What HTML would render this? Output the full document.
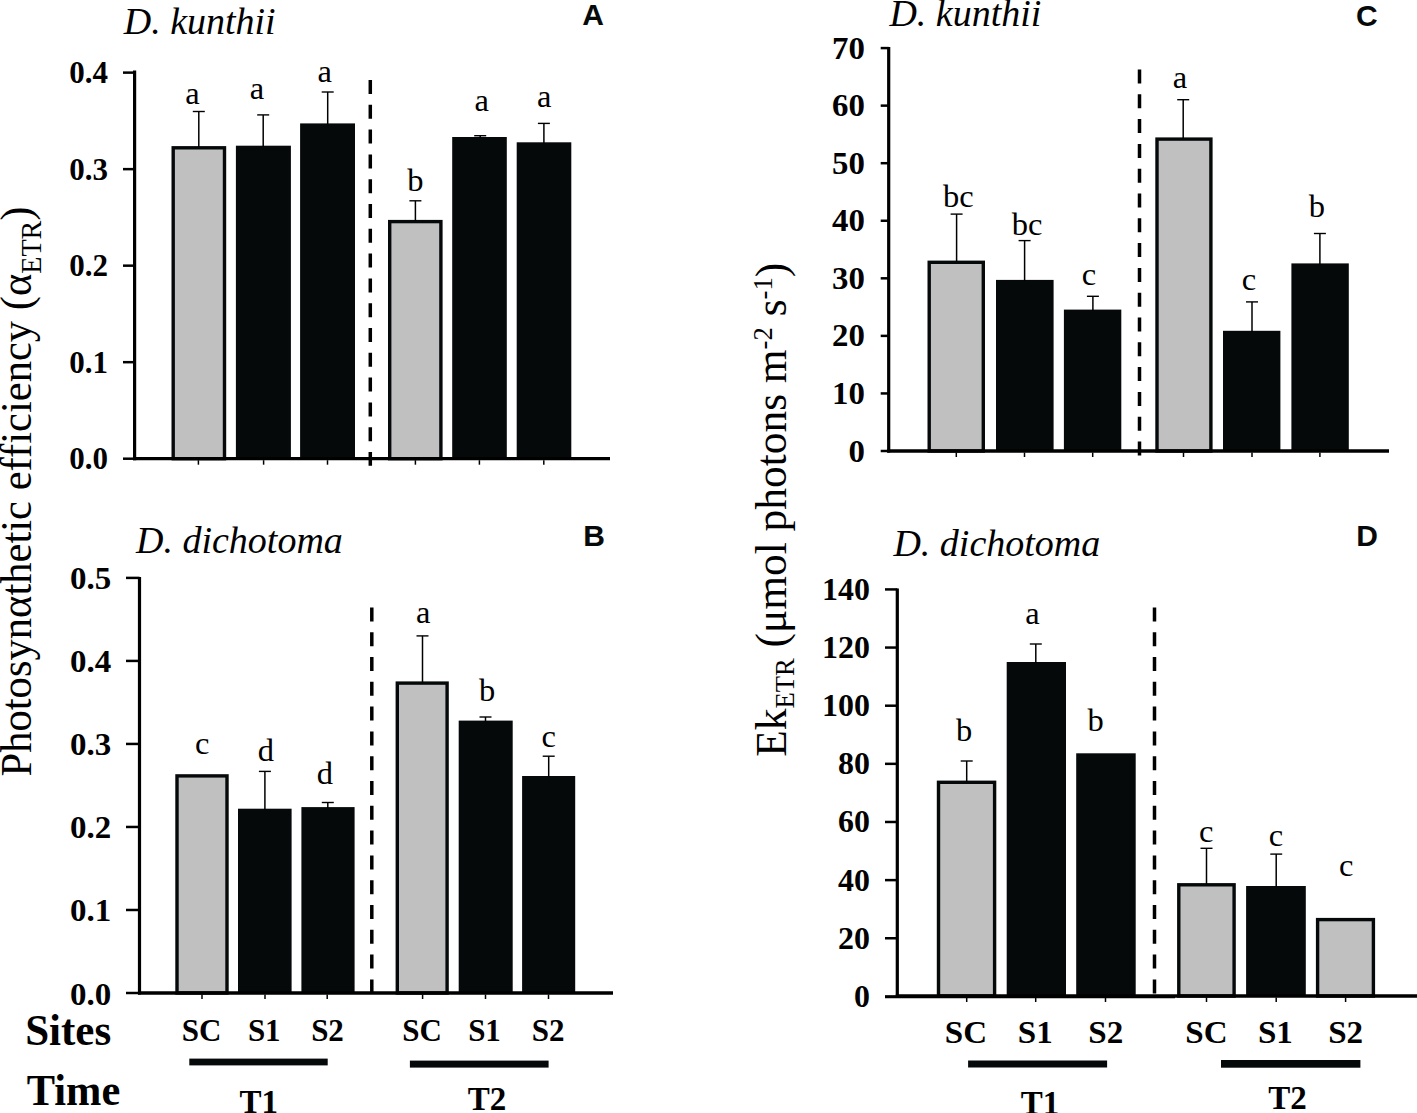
<!DOCTYPE html>
<html><head><meta charset="utf-8"><style>
html,body{margin:0;padding:0;background:#fff;width:1417px;height:1113px;overflow:hidden}
svg{display:block}
.r{font-family:"Liberation Serif",serif;fill:#000}
.b{font-family:"Liberation Serif",serif;font-weight:bold;fill:#000}
.i{font-family:"Liberation Serif",serif;font-style:italic;fill:#000}
.s{font-family:"Liberation Sans",sans-serif;font-weight:bold;fill:#05090a}
</style></head><body>
<svg width="1417" height="1113" viewBox="0 0 1417 1113">
<rect x="173.20" y="147.80" width="51.30" height="310.90" fill="#c0c0c0" stroke="#05090a" stroke-width="3.4"/>
<line x1="198.8" y1="111.5" x2="198.8" y2="147.1" stroke="#000" stroke-width="1.5"/>
<line x1="192.8" y1="111.5" x2="204.8" y2="111.5" stroke="#000" stroke-width="1.4"/>
<text x="192.5" y="104.3" font-size="32.5" class="r" text-anchor="middle" >a</text>
<rect x="235.9" y="145.7" width="55.0" height="313.0" fill="#05090a"/>
<line x1="263.2" y1="114.9" x2="263.2" y2="146.7" stroke="#000" stroke-width="1.5"/>
<line x1="257.2" y1="114.9" x2="269.2" y2="114.9" stroke="#000" stroke-width="1.4"/>
<text x="256.9" y="98.6" font-size="32.5" class="r" text-anchor="middle" >a</text>
<rect x="300.1" y="123.4" width="54.9" height="335.3" fill="#05090a"/>
<line x1="327.7" y1="92" x2="327.7" y2="124.4" stroke="#000" stroke-width="1.5"/>
<line x1="321.7" y1="92" x2="333.7" y2="92" stroke="#000" stroke-width="1.4"/>
<text x="324.8" y="82.4" font-size="32.5" class="r" text-anchor="middle" >a</text>
<rect x="389.70" y="221.60" width="51.20" height="237.10" fill="#c0c0c0" stroke="#05090a" stroke-width="3.4"/>
<line x1="415.4" y1="200.8" x2="415.4" y2="220.9" stroke="#000" stroke-width="1.5"/>
<line x1="409.4" y1="200.8" x2="421.4" y2="200.8" stroke="#000" stroke-width="1.4"/>
<text x="415.3" y="191.1" font-size="32.5" class="r" text-anchor="middle" >b</text>
<rect x="452.2" y="137.0" width="54.6" height="321.7" fill="#05090a"/>
<line x1="480.2" y1="135.7" x2="480.2" y2="138.0" stroke="#000" stroke-width="1.5"/>
<line x1="474.2" y1="135.7" x2="486.2" y2="135.7" stroke="#000" stroke-width="1.4"/>
<text x="481.7" y="111.1" font-size="32.5" class="r" text-anchor="middle" >a</text>
<rect x="516.7" y="142.3" width="54.6" height="316.4" fill="#05090a"/>
<line x1="543.9" y1="123.4" x2="543.9" y2="143.3" stroke="#000" stroke-width="1.5"/>
<line x1="537.9" y1="123.4" x2="549.9" y2="123.4" stroke="#000" stroke-width="1.4"/>
<text x="544.2" y="106.6" font-size="32.5" class="r" text-anchor="middle" >a</text>
<line x1="370.3" y1="80" x2="370.3" y2="465.7" stroke="#000" stroke-width="3.5" stroke-dasharray="14 10.8"/>
<line x1="134.6" y1="70.4" x2="134.6" y2="460.2" stroke="#000" stroke-width="3.2"/>
<line x1="133.1" y1="458.7" x2="610" y2="458.7" stroke="#000" stroke-width="3.3"/>
<line x1="123" y1="458.7" x2="134.6" y2="458.7" stroke="#000" stroke-width="2.5"/>
<text x="108" y="469.2" font-size="31" class="b" text-anchor="end" textLength="38.75" lengthAdjust="spacingAndGlyphs">0.0</text>
<line x1="123" y1="362.18" x2="134.6" y2="362.18" stroke="#000" stroke-width="2.5"/>
<text x="108" y="372.68" font-size="31" class="b" text-anchor="end" textLength="38.75" lengthAdjust="spacingAndGlyphs">0.1</text>
<line x1="123" y1="265.65999999999997" x2="134.6" y2="265.65999999999997" stroke="#000" stroke-width="2.5"/>
<text x="108" y="276.15999999999997" font-size="31" class="b" text-anchor="end" textLength="38.75" lengthAdjust="spacingAndGlyphs">0.2</text>
<line x1="123" y1="169.14" x2="134.6" y2="169.14" stroke="#000" stroke-width="2.5"/>
<text x="108" y="179.64" font-size="31" class="b" text-anchor="end" textLength="38.75" lengthAdjust="spacingAndGlyphs">0.3</text>
<line x1="123" y1="72.62" x2="134.6" y2="72.62" stroke="#000" stroke-width="2.5"/>
<text x="108" y="83.12" font-size="31" class="b" text-anchor="end" textLength="38.75" lengthAdjust="spacingAndGlyphs">0.4</text>
<line x1="198.4" y1="460.2" x2="198.4" y2="464.7" stroke="#000" stroke-width="1.5"/>
<line x1="263.6" y1="460.2" x2="263.6" y2="464.7" stroke="#000" stroke-width="1.5"/>
<line x1="327.5" y1="460.2" x2="327.5" y2="464.7" stroke="#000" stroke-width="1.5"/>
<line x1="415.4" y1="460.2" x2="415.4" y2="464.7" stroke="#000" stroke-width="1.5"/>
<line x1="479.4" y1="460.2" x2="479.4" y2="464.7" stroke="#000" stroke-width="1.5"/>
<line x1="543.8" y1="460.2" x2="543.8" y2="464.7" stroke="#000" stroke-width="1.5"/>
<rect x="177.00" y="775.90" width="50.00" height="217.10" fill="#c0c0c0" stroke="#05090a" stroke-width="3.4"/>
<text x="202.3" y="753.9" font-size="32.5" class="r" text-anchor="middle" >c</text>
<rect x="238.0" y="808.7" width="53.6" height="184.3" fill="#05090a"/>
<line x1="264.9" y1="771.4" x2="264.9" y2="809.7" stroke="#000" stroke-width="1.5"/>
<line x1="258.9" y1="771.4" x2="270.9" y2="771.4" stroke="#000" stroke-width="1.4"/>
<text x="265.9" y="760.5" font-size="32.5" class="r" text-anchor="middle" >d</text>
<rect x="301.4" y="807.1" width="53.2" height="185.9" fill="#05090a"/>
<line x1="327.8" y1="802.5" x2="327.8" y2="808.1" stroke="#000" stroke-width="1.5"/>
<line x1="321.8" y1="802.5" x2="333.8" y2="802.5" stroke="#000" stroke-width="1.4"/>
<text x="324.9" y="784.2" font-size="32.5" class="r" text-anchor="middle" >d</text>
<rect x="397.30" y="683.10" width="49.80" height="309.90" fill="#c0c0c0" stroke="#05090a" stroke-width="3.4"/>
<line x1="422.5" y1="635.9" x2="422.5" y2="682.4" stroke="#000" stroke-width="1.5"/>
<line x1="416.5" y1="635.9" x2="428.5" y2="635.9" stroke="#000" stroke-width="1.4"/>
<text x="423.1" y="623.2" font-size="32.5" class="r" text-anchor="middle" >a</text>
<rect x="458.7" y="720.6" width="54.0" height="272.4" fill="#05090a"/>
<line x1="485.5" y1="717" x2="485.5" y2="721.6" stroke="#000" stroke-width="1.5"/>
<line x1="479.5" y1="717" x2="491.5" y2="717" stroke="#000" stroke-width="1.4"/>
<text x="487.1" y="700.8" font-size="32.5" class="r" text-anchor="middle" >b</text>
<rect x="522.1" y="776.0" width="53.1" height="217.0" fill="#05090a"/>
<line x1="548.7" y1="756.2" x2="548.7" y2="777.0" stroke="#000" stroke-width="1.5"/>
<line x1="542.7" y1="756.2" x2="554.7" y2="756.2" stroke="#000" stroke-width="1.4"/>
<text x="548.6" y="746.8" font-size="32.5" class="r" text-anchor="middle" >c</text>
<line x1="371.8" y1="607.4" x2="371.8" y2="993" stroke="#000" stroke-width="3.5" stroke-dasharray="14 10.8"/>
<line x1="139.5" y1="576.9" x2="139.5" y2="994.5" stroke="#000" stroke-width="3.2"/>
<line x1="138.0" y1="993" x2="613" y2="993" stroke="#000" stroke-width="3.3"/>
<line x1="126" y1="993.0" x2="139.5" y2="993.0" stroke="#000" stroke-width="2.5"/>
<text x="111.3" y="1004.5" font-size="32" class="b" text-anchor="end" textLength="41.20" lengthAdjust="spacingAndGlyphs">0.0</text>
<line x1="126" y1="909.98" x2="139.5" y2="909.98" stroke="#000" stroke-width="2.5"/>
<text x="111.3" y="921.48" font-size="32" class="b" text-anchor="end" textLength="41.20" lengthAdjust="spacingAndGlyphs">0.1</text>
<line x1="126" y1="826.96" x2="139.5" y2="826.96" stroke="#000" stroke-width="2.5"/>
<text x="111.3" y="838.46" font-size="32" class="b" text-anchor="end" textLength="41.20" lengthAdjust="spacingAndGlyphs">0.2</text>
<line x1="126" y1="743.94" x2="139.5" y2="743.94" stroke="#000" stroke-width="2.5"/>
<text x="111.3" y="755.44" font-size="32" class="b" text-anchor="end" textLength="41.20" lengthAdjust="spacingAndGlyphs">0.3</text>
<line x1="126" y1="660.9200000000001" x2="139.5" y2="660.9200000000001" stroke="#000" stroke-width="2.5"/>
<text x="111.3" y="672.4200000000001" font-size="32" class="b" text-anchor="end" textLength="41.20" lengthAdjust="spacingAndGlyphs">0.4</text>
<line x1="126" y1="577.9000000000001" x2="139.5" y2="577.9000000000001" stroke="#000" stroke-width="2.5"/>
<text x="111.3" y="589.4000000000001" font-size="32" class="b" text-anchor="end" textLength="41.20" lengthAdjust="spacingAndGlyphs">0.5</text>
<line x1="202" y1="994.5" x2="202" y2="999" stroke="#000" stroke-width="1.5"/>
<line x1="265" y1="994.5" x2="265" y2="999" stroke="#000" stroke-width="1.5"/>
<line x1="327.2" y1="994.5" x2="327.2" y2="999" stroke="#000" stroke-width="1.5"/>
<line x1="422.6" y1="994.5" x2="422.6" y2="999" stroke="#000" stroke-width="1.5"/>
<line x1="485.5" y1="994.5" x2="485.5" y2="999" stroke="#000" stroke-width="1.5"/>
<line x1="548.5" y1="994.5" x2="548.5" y2="999" stroke="#000" stroke-width="1.5"/>
<rect x="929.20" y="262.30" width="54.10" height="188.70" fill="#c0c0c0" stroke="#05090a" stroke-width="3.4"/>
<line x1="956.6" y1="214.1" x2="956.6" y2="261.6" stroke="#000" stroke-width="1.5"/>
<line x1="950.6" y1="214.1" x2="962.6" y2="214.1" stroke="#000" stroke-width="1.4"/>
<text x="958.4" y="207.3" font-size="32.5" class="r" text-anchor="middle" >bc</text>
<rect x="996.0" y="279.9" width="57.6" height="171.1" fill="#05090a"/>
<line x1="1024.6" y1="240.6" x2="1024.6" y2="280.9" stroke="#000" stroke-width="1.5"/>
<line x1="1018.5999999999999" y1="240.6" x2="1030.6" y2="240.6" stroke="#000" stroke-width="1.4"/>
<text x="1027.0" y="234.5" font-size="32.5" class="r" text-anchor="middle" >bc</text>
<rect x="1063.9" y="309.6" width="57.4" height="141.4" fill="#05090a"/>
<line x1="1092.9" y1="296.3" x2="1092.9" y2="310.6" stroke="#000" stroke-width="1.5"/>
<line x1="1086.9" y1="296.3" x2="1098.9" y2="296.3" stroke="#000" stroke-width="1.4"/>
<text x="1088.9" y="285.2" font-size="32.5" class="r" text-anchor="middle" >c</text>
<rect x="1157.00" y="139.10" width="53.90" height="311.90" fill="#c0c0c0" stroke="#05090a" stroke-width="3.4"/>
<line x1="1183.2" y1="99.7" x2="1183.2" y2="138.4" stroke="#000" stroke-width="1.5"/>
<line x1="1177.2" y1="99.7" x2="1189.2" y2="99.7" stroke="#000" stroke-width="1.4"/>
<text x="1179.9" y="87.6" font-size="32.5" class="r" text-anchor="middle" >a</text>
<rect x="1223.0" y="330.8" width="57.4" height="120.2" fill="#05090a"/>
<line x1="1252" y1="301.9" x2="1252" y2="331.8" stroke="#000" stroke-width="1.5"/>
<line x1="1246" y1="301.9" x2="1258" y2="301.9" stroke="#000" stroke-width="1.4"/>
<text x="1248.9" y="290.2" font-size="32.5" class="r" text-anchor="middle" >c</text>
<rect x="1291.4" y="263.4" width="57.4" height="187.6" fill="#05090a"/>
<line x1="1319.9" y1="233.5" x2="1319.9" y2="264.4" stroke="#000" stroke-width="1.5"/>
<line x1="1313.9" y1="233.5" x2="1325.9" y2="233.5" stroke="#000" stroke-width="1.4"/>
<text x="1316.9" y="217.2" font-size="32.5" class="r" text-anchor="middle" >b</text>
<line x1="1139.5" y1="69.5" x2="1139.5" y2="455.4" stroke="#000" stroke-width="3.5" stroke-dasharray="14 10.8"/>
<line x1="888.7" y1="47" x2="888.7" y2="452.5" stroke="#000" stroke-width="3.2"/>
<line x1="887.2" y1="451" x2="1389" y2="451" stroke="#000" stroke-width="3.3"/>
<line x1="880.7" y1="451.0" x2="888.7" y2="451.0" stroke="#000" stroke-width="2.5"/>
<text x="865" y="461.5" font-size="31" class="b" text-anchor="end" textLength="16.43" lengthAdjust="spacingAndGlyphs">0</text>
<line x1="880.7" y1="393.44" x2="888.7" y2="393.44" stroke="#000" stroke-width="2.5"/>
<text x="865" y="403.94" font-size="31" class="b" text-anchor="end" textLength="32.86" lengthAdjust="spacingAndGlyphs">10</text>
<line x1="880.7" y1="335.88" x2="888.7" y2="335.88" stroke="#000" stroke-width="2.5"/>
<text x="865" y="346.38" font-size="31" class="b" text-anchor="end" textLength="32.86" lengthAdjust="spacingAndGlyphs">20</text>
<line x1="880.7" y1="278.32" x2="888.7" y2="278.32" stroke="#000" stroke-width="2.5"/>
<text x="865" y="288.82" font-size="31" class="b" text-anchor="end" textLength="32.86" lengthAdjust="spacingAndGlyphs">30</text>
<line x1="880.7" y1="220.76" x2="888.7" y2="220.76" stroke="#000" stroke-width="2.5"/>
<text x="865" y="231.26" font-size="31" class="b" text-anchor="end" textLength="32.86" lengthAdjust="spacingAndGlyphs">40</text>
<line x1="880.7" y1="163.2" x2="888.7" y2="163.2" stroke="#000" stroke-width="2.5"/>
<text x="865" y="173.7" font-size="31" class="b" text-anchor="end" textLength="32.86" lengthAdjust="spacingAndGlyphs">50</text>
<line x1="880.7" y1="105.63999999999999" x2="888.7" y2="105.63999999999999" stroke="#000" stroke-width="2.5"/>
<text x="865" y="116.13999999999999" font-size="31" class="b" text-anchor="end" textLength="32.86" lengthAdjust="spacingAndGlyphs">60</text>
<line x1="880.7" y1="48.079999999999984" x2="888.7" y2="48.079999999999984" stroke="#000" stroke-width="2.5"/>
<text x="865" y="58.579999999999984" font-size="31" class="b" text-anchor="end" textLength="32.86" lengthAdjust="spacingAndGlyphs">70</text>
<line x1="956.3" y1="452.5" x2="956.3" y2="457" stroke="#000" stroke-width="1.5"/>
<line x1="1024.5" y1="452.5" x2="1024.5" y2="457" stroke="#000" stroke-width="1.5"/>
<line x1="1092.7" y1="452.5" x2="1092.7" y2="457" stroke="#000" stroke-width="1.5"/>
<line x1="1183.5" y1="452.5" x2="1183.5" y2="457" stroke="#000" stroke-width="1.5"/>
<line x1="1252" y1="452.5" x2="1252" y2="457" stroke="#000" stroke-width="1.5"/>
<line x1="1319.9" y1="452.5" x2="1319.9" y2="457" stroke="#000" stroke-width="1.5"/>
<rect x="938.50" y="782.30" width="56.10" height="213.70" fill="#c0c0c0" stroke="#05090a" stroke-width="3.4"/>
<line x1="966.7" y1="761" x2="966.7" y2="781.6" stroke="#000" stroke-width="1.5"/>
<line x1="960.7" y1="761" x2="972.7" y2="761" stroke="#000" stroke-width="1.4"/>
<text x="964.2" y="740.6" font-size="32.5" class="r" text-anchor="middle" >b</text>
<rect x="1006.7" y="662.0" width="59.3" height="334.0" fill="#05090a"/>
<line x1="1035.8" y1="644" x2="1035.8" y2="663.0" stroke="#000" stroke-width="1.5"/>
<line x1="1029.8" y1="644" x2="1041.8" y2="644" stroke="#000" stroke-width="1.4"/>
<text x="1032.5" y="623.6" font-size="32.5" class="r" text-anchor="middle" >a</text>
<rect x="1076.2" y="753.3" width="59.5" height="242.7" fill="#05090a"/>
<text x="1095.5" y="730.8" font-size="32.5" class="r" text-anchor="middle" >b</text>
<rect x="1178.80" y="884.80" width="55.30" height="111.20" fill="#c0c0c0" stroke="#05090a" stroke-width="3.4"/>
<line x1="1206.5" y1="848.3" x2="1206.5" y2="884.1" stroke="#000" stroke-width="1.5"/>
<line x1="1200.5" y1="848.3" x2="1212.5" y2="848.3" stroke="#000" stroke-width="1.4"/>
<text x="1206.3" y="841.6" font-size="32.5" class="r" text-anchor="middle" >c</text>
<rect x="1246.1" y="886.0" width="59.7" height="110.0" fill="#05090a"/>
<line x1="1276.2" y1="854.1" x2="1276.2" y2="887.0" stroke="#000" stroke-width="1.5"/>
<line x1="1270.2" y1="854.1" x2="1282.2" y2="854.1" stroke="#000" stroke-width="1.4"/>
<text x="1275.9" y="846.1" font-size="32.5" class="r" text-anchor="middle" >c</text>
<rect x="1317.60" y="919.60" width="55.80" height="76.40" fill="#c0c0c0" stroke="#05090a" stroke-width="3.4"/>
<text x="1346.3" y="876.2" font-size="32.5" class="r" text-anchor="middle" >c</text>
<line x1="1154.5" y1="607.4" x2="1154.5" y2="995" stroke="#000" stroke-width="3.5" stroke-dasharray="14 10.8"/>
<line x1="897.3" y1="588.4" x2="897.3" y2="997.5" stroke="#000" stroke-width="3.2"/>
<line x1="895.8" y1="996.0" x2="1417" y2="996.0" stroke="#000" stroke-width="3.3"/>
<line x1="885" y1="996.4" x2="897.3" y2="996.4" stroke="#000" stroke-width="2.5"/>
<text x="870" y="1006.9" font-size="31" class="b" text-anchor="end" textLength="15.96" lengthAdjust="spacingAndGlyphs">0</text>
<line x1="885" y1="938.26" x2="897.3" y2="938.26" stroke="#000" stroke-width="2.5"/>
<text x="870" y="948.76" font-size="31" class="b" text-anchor="end" textLength="31.93" lengthAdjust="spacingAndGlyphs">20</text>
<line x1="885" y1="880.12" x2="897.3" y2="880.12" stroke="#000" stroke-width="2.5"/>
<text x="870" y="890.62" font-size="31" class="b" text-anchor="end" textLength="31.93" lengthAdjust="spacingAndGlyphs">40</text>
<line x1="885" y1="821.98" x2="897.3" y2="821.98" stroke="#000" stroke-width="2.5"/>
<text x="870" y="832.48" font-size="31" class="b" text-anchor="end" textLength="31.93" lengthAdjust="spacingAndGlyphs">60</text>
<line x1="885" y1="763.8399999999999" x2="897.3" y2="763.8399999999999" stroke="#000" stroke-width="2.5"/>
<text x="870" y="774.3399999999999" font-size="31" class="b" text-anchor="end" textLength="31.93" lengthAdjust="spacingAndGlyphs">80</text>
<line x1="885" y1="705.7" x2="897.3" y2="705.7" stroke="#000" stroke-width="2.5"/>
<text x="870" y="716.2" font-size="31" class="b" text-anchor="end" textLength="47.90" lengthAdjust="spacingAndGlyphs">100</text>
<line x1="885" y1="647.56" x2="897.3" y2="647.56" stroke="#000" stroke-width="2.5"/>
<text x="870" y="658.06" font-size="31" class="b" text-anchor="end" textLength="47.90" lengthAdjust="spacingAndGlyphs">120</text>
<line x1="885" y1="589.42" x2="897.3" y2="589.42" stroke="#000" stroke-width="2.5"/>
<text x="870" y="599.92" font-size="31" class="b" text-anchor="end" textLength="47.90" lengthAdjust="spacingAndGlyphs">140</text>
<line x1="966.7" y1="997.5" x2="966.7" y2="1002.0" stroke="#000" stroke-width="1.5"/>
<line x1="1035.7" y1="997.5" x2="1035.7" y2="1002.0" stroke="#000" stroke-width="1.5"/>
<line x1="1105.5" y1="997.5" x2="1105.5" y2="1002.0" stroke="#000" stroke-width="1.5"/>
<line x1="1206.5" y1="997.5" x2="1206.5" y2="1002.0" stroke="#000" stroke-width="1.5"/>
<line x1="1276.2" y1="997.5" x2="1276.2" y2="1002.0" stroke="#000" stroke-width="1.5"/>
<line x1="1345.6" y1="997.5" x2="1345.6" y2="1002.0" stroke="#000" stroke-width="1.5"/>
<line x1="885" y1="997.6" x2="1175" y2="997.6" stroke="#000" stroke-width="1.4"/>
<text x="123.7" y="34" font-size="38" class="i" text-anchor="start" >D. kunthii</text>
<text x="136.0" y="552.6" font-size="38" class="i" text-anchor="start" >D. dichotoma</text>
<text x="889.4" y="25.7" font-size="38" class="i" text-anchor="start" >D. kunthii</text>
<text x="893.4" y="555.5" font-size="38" class="i" text-anchor="start" >D. dichotoma</text>
<text x="582.3" y="25.3" font-size="30" class="s" text-anchor="start" >A</text>
<text x="583.2" y="545.9" font-size="30" class="s" text-anchor="start" >B</text>
<text x="1356.0" y="25.6" font-size="30" class="s" text-anchor="start" >C</text>
<text x="1356.3" y="545.9" font-size="30" class="s" text-anchor="start" >D</text>
<text x="25.2" y="1044.5" font-size="44" class="b" text-anchor="start" textLength="86" lengthAdjust="spacingAndGlyphs">Sites</text>
<text x="26.8" y="1104.8" font-size="44" class="b" text-anchor="start" textLength="93.5" lengthAdjust="spacingAndGlyphs">Time</text>
<text x="201.5" y="1040.6" font-size="31" class="b" text-anchor="middle" textLength="39.63" lengthAdjust="spacingAndGlyphs">SC</text>
<text x="422.05" y="1040.6" font-size="31" class="b" text-anchor="middle" textLength="39.63" lengthAdjust="spacingAndGlyphs">SC</text>
<text x="264.25" y="1040.6" font-size="31" class="b" text-anchor="middle" textLength="32.75" lengthAdjust="spacingAndGlyphs">S1</text>
<text x="484.5" y="1040.6" font-size="31" class="b" text-anchor="middle" textLength="32.75" lengthAdjust="spacingAndGlyphs">S1</text>
<text x="327.5" y="1040.6" font-size="31" class="b" text-anchor="middle" textLength="32.75" lengthAdjust="spacingAndGlyphs">S2</text>
<text x="548.2" y="1040.6" font-size="31" class="b" text-anchor="middle" textLength="32.75" lengthAdjust="spacingAndGlyphs">S2</text>
<text x="965.95" y="1042.5" font-size="31" class="b" text-anchor="middle" textLength="42.28" lengthAdjust="spacingAndGlyphs">SC</text>
<text x="1206.45" y="1042.5" font-size="31" class="b" text-anchor="middle" textLength="42.28" lengthAdjust="spacingAndGlyphs">SC</text>
<text x="1035.25" y="1042.5" font-size="31" class="b" text-anchor="middle" textLength="34.94" lengthAdjust="spacingAndGlyphs">S1</text>
<text x="1275.45" y="1042.5" font-size="31" class="b" text-anchor="middle" textLength="34.94" lengthAdjust="spacingAndGlyphs">S1</text>
<text x="1105.8" y="1042.5" font-size="31" class="b" text-anchor="middle" textLength="34.94" lengthAdjust="spacingAndGlyphs">S2</text>
<text x="1345.65" y="1042.5" font-size="31" class="b" text-anchor="middle" textLength="34.94" lengthAdjust="spacingAndGlyphs">S2</text>
<rect x="189.3" y="1058.6" width="138.4" height="6.8" fill="#05090a"/>
<rect x="409.9" y="1060.6" width="138.7" height="7.0" fill="#05090a"/>
<rect x="968.1" y="1060.5" width="139.0" height="7.0" fill="#05090a"/>
<rect x="1221" y="1060" width="139.4" height="7.7" fill="#05090a"/>
<text x="258.65" y="1112.7" font-size="33" class="b" text-anchor="middle" >T1</text>
<text x="487.0" y="1109.5" font-size="33" class="b" text-anchor="middle" >T2</text>
<text x="1040.1" y="1114.3" font-size="33" class="b" text-anchor="middle" >T1</text>
<text x="1287.45" y="1108.6" font-size="33" class="b" text-anchor="middle" >T2</text>
<text class="r" font-size="44" transform="translate(30.5,776.5) rotate(-90)" textLength="570" lengthAdjust="spacingAndGlyphs">Photosynαthetic efficiency (α<tspan font-size="29" dy="10">ETR</tspan><tspan dy="-10">)</tspan></text>
<text class="r" font-size="44" transform="translate(785.5,756.8) rotate(-90)" textLength="494" lengthAdjust="spacingAndGlyphs">Ek<tspan font-size="27" dy="8.5">ETR</tspan><tspan dy="-8.5"> (μmol photons m</tspan><tspan font-size="27" dy="-13.8">-2</tspan><tspan dy="13.8"> s</tspan><tspan font-size="27" dy="-13.8">-1</tspan><tspan dy="13.8">)</tspan></text>
</svg>
</body></html>
